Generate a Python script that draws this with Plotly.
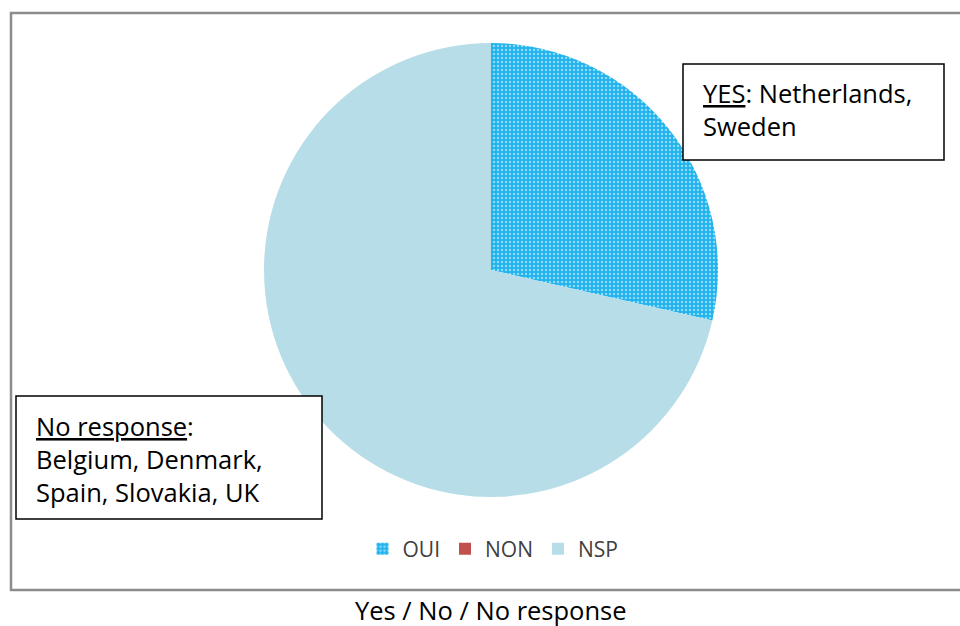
import plotly.graph_objects as go

W, H = 960, 626

# Survey answers: number of countries per response
labels = ["OUI", "NON", "NSP"]
values = [2, 0, 5]
colors = ["#1FB3EE", "#C0504D", "#B7DDE8"]

title_text = "Yes / No / No response"
yes_lines = ["<u>YES</u>: Netherlands,", "Sweden"]
nr_lines = ["<u>No response</u>:", "Belgium, Denmark,", "Spain, Slovakia, UK"]

FONT = "Open Sans"


def px(x):
    return x / W


def py(y):
    return 1 - y / H


fig = go.Figure()
fig.add_trace(go.Pie(
    labels=labels,
    values=values,
    sort=False,
    direction="clockwise",
    rotation=0,
    textinfo="none",
    hoverinfo="label+value+percent",
    marker=dict(
        colors=colors,
        line=dict(width=0),
        pattern=dict(shape=[".", "", ""], fgcolor="white",
                     size=4, solidity=0.3, fillmode="overlay"),
    ),
    domain=dict(x=[px(264), px(718)], y=[py(497), py(43)]),
))

shapes = [
    # chart area frame
    dict(type="rect", xref="paper", yref="paper",
         x0=px(11), x1=px(975), y0=py(13), y1=py(590),
         line=dict(color="#8C8C8C", width=2.5), fillcolor="rgba(0,0,0,0)"),
    # callout boxes
    dict(type="rect", xref="paper", yref="paper",
         x0=px(683), x1=px(944), y0=py(64), y1=py(160),
         line=dict(color="black", width=1.5), fillcolor="white"),
    dict(type="rect", xref="paper", yref="paper",
         x0=px(16), x1=px(322), y0=py(396), y1=py(519),
         line=dict(color="black", width=1.5), fillcolor="white"),
]

annotations = [
    dict(text="<br>".join(yes_lines), xref="paper", yref="paper",
         x=px(701), y=py(110), xanchor="left", yanchor="middle", align="left",
         showarrow=False, font=dict(family=FONT, size=25.5, color="black")),
    dict(text="<br>".join(nr_lines), xref="paper", yref="paper",
         x=px(34), y=py(459), xanchor="left", yanchor="middle", align="left",
         showarrow=False, font=dict(family=FONT, size=25.5, color="black")),
    dict(text=title_text, xref="paper", yref="paper", x=px(491), y=py(610),
         xanchor="center", yanchor="middle", showarrow=False,
         font=dict(family=FONT, size=25.5, color="black")),
]

fig.update_layout(
    width=W, height=H,
    margin=dict(l=0, r=0, t=0, b=0),
    paper_bgcolor="white",
    plot_bgcolor="white",
    shapes=shapes,
    annotations=annotations,
    showlegend=True,
    legend=dict(orientation="h", x=px(493), y=py(549), xanchor="center",
                yanchor="middle", font=dict(family=FONT, size=21, color="#404040"),
                itemwidth=30, traceorder="normal"),
)

fig.write_html("out.html")
